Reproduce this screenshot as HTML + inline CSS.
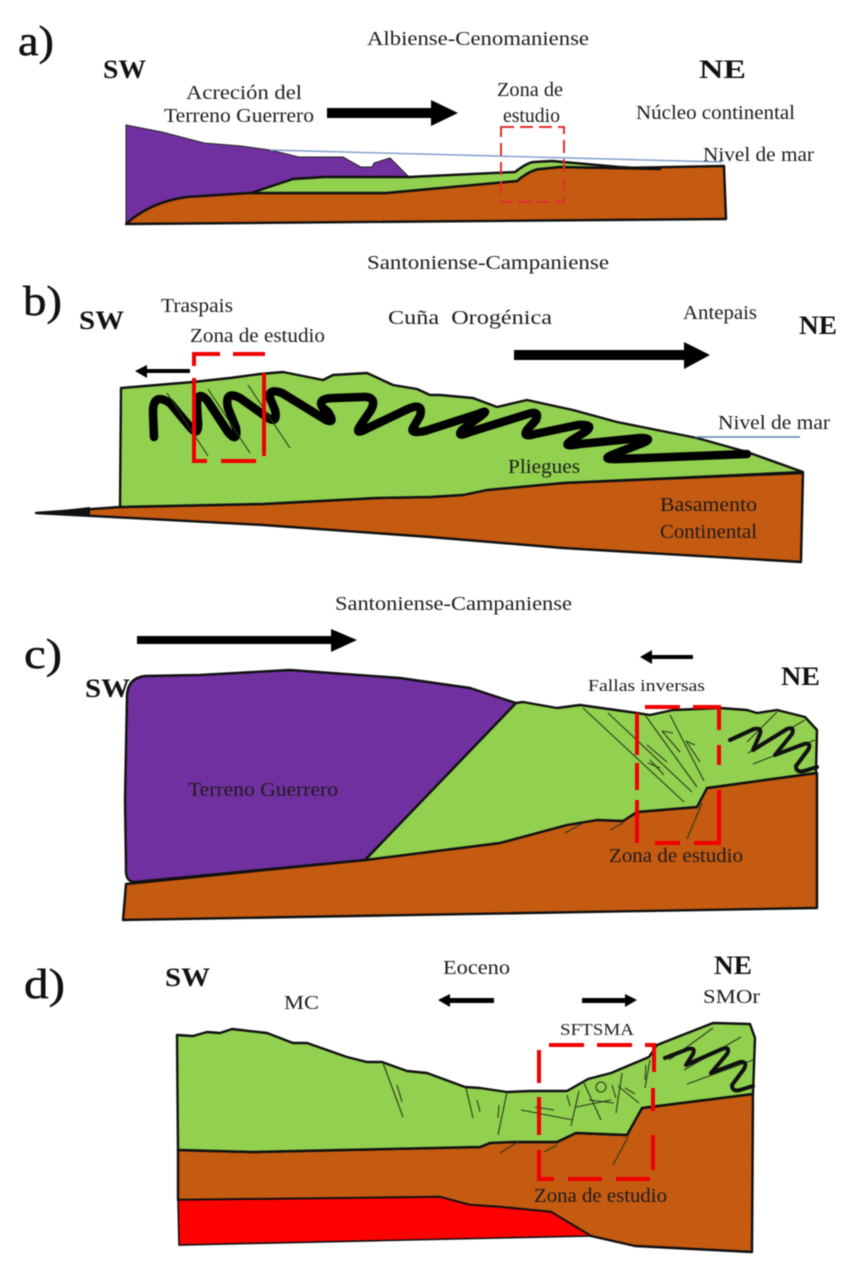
<!DOCTYPE html>
<html><head><meta charset="utf-8"><style>
html,body{margin:0;padding:0;background:#fff}
svg{display:block;filter:blur(0.5px)}
text{font-family:"Liberation Serif",serif;fill:#1c1c1c;font-size:20px}
.b{font-weight:bold;font-size:26px;fill:#111}
.L{font-size:42px;fill:#111;stroke:#111;stroke-width:.5}
.m{font-size:17px}
.s{stroke:#111;stroke-width:2.4;stroke-linejoin:round}
.f{fill:none;stroke:#000;stroke-width:8.5;stroke-linejoin:round;stroke-linecap:round}
.g{fill:none;stroke:#111;stroke-width:4;stroke-linejoin:round;stroke-linecap:round}
.t{fill:none;stroke:#2a3a1a;stroke-width:1.1}
.r{fill:none;stroke:#f00000}
</style></head><body>
<svg width="865" height="1274" viewBox="0 0 865 1274" xmlns="http://www.w3.org/2000/svg">

<!-- a -->
<path fill="#7030a0" stroke="#222" stroke-width="1" d="M126,125L162,132 204,143 241,146 270,150 299,157 343,157 361,167 372,167 374,163 390,158 409,177 324,177 293,179 251,193 187,197 154,207 126,224Z"/>
<path class="s" fill="#c55a11" d="M126,224Q150,202 187,197L249,193 386,193 517,181Q530,170 540,169L560,167 619,168 724,166 726,219Z"/>
<path class="s" fill="#92d050" d="M251,193L293,179 324,177 409,177 515,172Q528,162 534,162L552,161 619,167 660,169 560,167 540,169Q530,170 517,181L386,193Z"/>
<line x1="270" y1="150" x2="722" y2="162" stroke="#7f9ccb" stroke-width="1.4"/>
<rect x="501" y="127" width="63" height="75" fill="none" stroke-width="2" stroke-dasharray="13 6" stroke="#e03030"/>
<polygon fill="#000" points="327,108 431,108 431,100 458,113 431,126 431,118 327,118"/>

<!-- b -->
<polygon class="s" fill="#c55a11" points="36,513 120,507 263,504 377,498 430,497 463,495 487,490 563,483 803,473 801,562 563,548 430,537 263,525"/>
<polygon class="s" fill="#92d050" points="121,388 193,382 230,378 260,374 283,372 323,380 333,375 367,373 393,385 417,389 430,395 440,395 473,398 497,407 527,400 573,410 617,422 697,438 747,452 803,472 563,483 487,490 463,495 430,497 377,498 263,504 120,507"/>
<polygon fill="#111" points="36,513 90,507 90,516"/>
<path class="f" d="M154,437L153,412Q153,392 170,403L190,427Q199,438 198,422L197,405Q197,390 207,400L228,432Q238,444 236,428L228,408Q224,390 240,398L268,418Q278,424 275,410L270,398Q268,388 282,393L326,420Q336,424 328,412L323,408Q316,398 335,398L362,397Q378,396 371,410L360,426Q354,436 368,428L408,409Q424,402 420,416L413,428Q410,434 425,431L478,414Q492,408 478,418L462,430Q456,438 470,432L528,414Q540,410 536,420L527,430Q522,438 535,434L578,425Q596,424 585,432L572,440Q560,448 580,444L640,438Q656,438 640,444L612,455Q600,460 620,459L747,454"/>
<line class="t" x1="167" y1="393" x2="208" y2="456"/>
<line class="t" x1="208" y1="389" x2="250" y2="453"/>
<line class="t" x1="248" y1="385" x2="290" y2="448"/>
<path class="r" stroke-width="4" d="M194,366V354H220M233,354H265M264,373V456M194,378V461H207M221,461H256"/>
<line x1="695" y1="437" x2="800" y2="437" stroke="#5b83ab" stroke-width="1.5"/>
<polygon fill="#000" points="514,350 684,350 684,342 710,355 684,369 684,360 514,360"/>
<polygon fill="#000" points="190,369 147,369 147,365 135,371 147,378 147,373 190,373"/>

<!-- c -->
<polygon class="s" stroke-width="2.8" fill="#c55a11" points="126,884 365,860 500,843 567,825 597,820 623,821 637,812 697,807 707,788 817,773 817,908 123,920"/>
<polygon class="s" fill="#92d050" stroke-width="2.8" points="516,703 523,702 557,708 580,705 637,713 650,715 673,710 720,708 747,710 757,713 777,710 805,717 817,730 816,773 707,788 697,807 637,812 623,821 597,820 567,825 500,843 365,860"/>
<path class="s" stroke-width="2.8" fill="#7030a0" d="M127,695Q128,678 145,676L200,675 290,670 400,678 470,688 516,703 365,860 135,882Q125,882 126,868L125,800Z"/>
<g class="t"><line x1="583" y1="708" x2="684" y2="802"/><line x1="608" y1="713" x2="692" y2="792"/><line x1="645" y1="715" x2="697" y2="787"/><line x1="670" y1="715" x2="704" y2="781"/>
<line x1="650" y1="760" x2="664" y2="775"/><line x1="648" y1="763" x2="660" y2="768"/><line x1="647" y1="745" x2="667" y2="762"/><line x1="662" y1="731" x2="680" y2="752"/><line x1="662" y1="731" x2="673" y2="733"/><line x1="686" y1="741" x2="700" y2="762"/><line x1="686" y1="741" x2="695" y2="745"/>
<line x1="747" y1="742" x2="777" y2="712"/><line x1="748" y1="753" x2="805" y2="720"/><line x1="753" y1="764" x2="815" y2="740"/>
<line x1="565" y1="833" x2="583" y2="823"/><line x1="610" y1="830" x2="623" y2="823"/><line x1="687" y1="839" x2="702" y2="803"/></g>
<path class="g" d="M730,740L754,729Q762,727 760,734L753,750 787,729Q795,726 792,734L775,755 804,744Q812,742 808,750L796,766Q796,773 804,771L817,767"/>
<path class="r" stroke-width="4" d="M645,707H680M693,707H719V730M719,745V765M719,790V843H694M680,843H655M637,843V800M637,790V763M637,755V713"/>
<polygon fill="#000" points="137,636 331,636 331,629 357,640 331,652 331,644 137,644"/>
<polygon fill="#000" points="693,655 652,655 652,650 640,657 652,664 652,659 693,659"/>

<!-- d -->
<polygon class="s" fill="#c55a11" points="178,1150 253,1152 480,1147 490,1143 513,1142 557,1142 576,1133 627,1135 642,1108 753,1094 752,1252 635,1246 591,1236 551,1212 500,1207 470,1205 440,1197 178,1200"/>
<polygon fill="#ff0000" stroke="#111" stroke-width="1.6" points="178,1200 440,1197 470,1205 500,1207 551,1212 591,1236 179,1245"/>
<polygon class="s" fill="#92d050" points="177,1035 193,1036 207,1032 220,1033 232,1029 267,1033 293,1043 307,1043 347,1057 367,1062 382,1062 407,1071 427,1073 465,1087 480,1088 507,1092 530,1091 567,1091 588,1079 611,1073 649,1057 657,1045 713,1023 750,1024 755,1038 753,1094 642,1108 627,1135 576,1133 557,1142 513,1142 490,1143 480,1147 253,1152 178,1150"/>
<g class="t"><line x1="383" y1="1063" x2="403" y2="1117"/><line x1="397" y1="1085" x2="402" y2="1102"/><line x1="466" y1="1088" x2="473" y2="1118"/><line x1="477" y1="1100" x2="480" y2="1112"/><line x1="507" y1="1092" x2="498" y2="1135"/><line x1="499" y1="1105" x2="498" y2="1118"/>
<line x1="521" y1="1110" x2="573" y2="1120"/><line x1="535" y1="1107" x2="554" y2="1110"/><line x1="579" y1="1091" x2="571" y2="1126"/><line x1="584" y1="1083" x2="601" y2="1120"/><line x1="576" y1="1107" x2="611" y2="1100"/><line x1="589" y1="1100" x2="614" y2="1103"/><line x1="622" y1="1073" x2="616" y2="1113"/><line x1="618" y1="1086" x2="639" y2="1103"/><line x1="625" y1="1088" x2="635" y2="1094"/><line x1="650" y1="1060" x2="645" y2="1088"/><line x1="567" y1="1095" x2="570" y2="1106"/><line x1="612" y1="1085" x2="616" y2="1098"/><line x1="646" y1="1065" x2="645" y2="1080"/>
<circle cx="601" cy="1087" r="5" fill="none"/>
<line x1="669" y1="1060" x2="713" y2="1028"/><line x1="684" y1="1070" x2="741" y2="1037"/><line x1="687" y1="1084" x2="753" y2="1060"/>
<line x1="500" y1="1153" x2="518" y2="1142"/><line x1="544" y1="1152" x2="557" y2="1145"/><line x1="613" y1="1165" x2="628" y2="1137"/></g>
<path class="g" d="M665,1058L688,1049Q696,1047 693,1054L686,1065 722,1049Q731,1046 727,1054L711,1073 740,1062Q748,1061 744,1069L732,1085Q732,1092 740,1090L753,1086"/>
<path class="r" stroke-width="4" d="M549,1045H584M597,1045H632M645,1045H654V1072M653,1088V1111M653,1135V1170M650,1179H616M602,1179H568M554,1179H539V1150M539,1135V1097M539,1083V1050"/>
<polygon fill="#000" points="494,998 450,998 450,994 438,1000 450,1007 450,1003 494,1003"/>
<polygon fill="#000" points="582,998 625,998 625,994 637,1000 625,1007 625,1003 582,1003"/>

<!-- text -->
<text class="L" x="18" y="55" textLength="36" lengthAdjust="spacingAndGlyphs">a)</text>
<text class="b" x="103" y="78" textLength="43" lengthAdjust="spacingAndGlyphs">SW</text>
<text x="367" y="45" textLength="222" lengthAdjust="spacingAndGlyphs">Albiense-Cenomaniense</text>
<text x="186" y="99" textLength="116" lengthAdjust="spacingAndGlyphs">Acreción del</text>
<text x="164" y="122" textLength="150" lengthAdjust="spacingAndGlyphs">Terreno Guerrero</text>
<text x="497" y="96" textLength="66" lengthAdjust="spacingAndGlyphs">Zona de</text>
<text x="503" y="122" textLength="57" lengthAdjust="spacingAndGlyphs">estudio</text>
<text class="b" x="699" y="78" textLength="47" lengthAdjust="spacingAndGlyphs">NE</text>
<text x="636" y="119" textLength="159" lengthAdjust="spacingAndGlyphs">Núcleo continental</text>
<text x="703" y="161" textLength="111" lengthAdjust="spacingAndGlyphs">Nivel de mar</text>

<text class="L" x="23" y="315" textLength="39" lengthAdjust="spacingAndGlyphs">b)</text>
<text x="367" y="269" textLength="242" lengthAdjust="spacingAndGlyphs">Santoniense-Campaniense</text>
<text class="b" x="79" y="329" textLength="45" lengthAdjust="spacingAndGlyphs">SW</text>
<text x="161" y="312" textLength="72" lengthAdjust="spacingAndGlyphs">Traspais</text>
<text x="190" y="342" textLength="135" lengthAdjust="spacingAndGlyphs">Zona de estudio</text>
<text x="388" y="324" textLength="164" lengthAdjust="spacingAndGlyphs" xml:space="preserve">Cuña  Orogénica</text>
<text x="683" y="319" textLength="74" lengthAdjust="spacingAndGlyphs">Antepais</text>
<text class="b" x="799" y="334" textLength="38" lengthAdjust="spacingAndGlyphs">NE</text>
<text x="718" y="429" textLength="112" lengthAdjust="spacingAndGlyphs">Nivel de mar</text>
<text x="508" y="473" textLength="72" lengthAdjust="spacingAndGlyphs">Pliegues</text>
<text x="660" y="511" textLength="97" lengthAdjust="spacingAndGlyphs">Basamento</text>
<text x="660" y="538" textLength="97" lengthAdjust="spacingAndGlyphs">Continental</text>

<text class="L" x="24" y="668" textLength="38" lengthAdjust="spacingAndGlyphs">c)</text>
<text x="335" y="610" textLength="237" lengthAdjust="spacingAndGlyphs">Santoniense-Campaniense</text>
<text class="b" x="85" y="697" textLength="45" lengthAdjust="spacingAndGlyphs">SW</text>
<text class="b" x="781" y="685" textLength="39" lengthAdjust="spacingAndGlyphs">NE</text>
<text class="m" x="588" y="691" textLength="117" lengthAdjust="spacingAndGlyphs">Fallas inversas</text>
<text x="188" y="796" textLength="150" lengthAdjust="spacingAndGlyphs">Terreno Guerrero</text>
<text x="609" y="862" textLength="134" lengthAdjust="spacingAndGlyphs">Zona de estudio</text>

<text class="L" x="24" y="998" textLength="41" lengthAdjust="spacingAndGlyphs">d)</text>
<text class="b" x="165" y="986" textLength="45" lengthAdjust="spacingAndGlyphs">SW</text>
<text x="443" y="974" textLength="67" lengthAdjust="spacingAndGlyphs">Eoceno</text>
<text class="b" x="714" y="974" textLength="38" lengthAdjust="spacingAndGlyphs">NE</text>
<text x="284" y="1009" textLength="35" lengthAdjust="spacingAndGlyphs">MC</text>
<text x="703" y="1003" textLength="57" lengthAdjust="spacingAndGlyphs">SMOr</text>
<text class="m" x="560" y="1035" textLength="74" lengthAdjust="spacingAndGlyphs">SFTSMA</text>
<text x="534" y="1202" textLength="133" lengthAdjust="spacingAndGlyphs">Zona de estudio</text>
</svg>
</body></html>
